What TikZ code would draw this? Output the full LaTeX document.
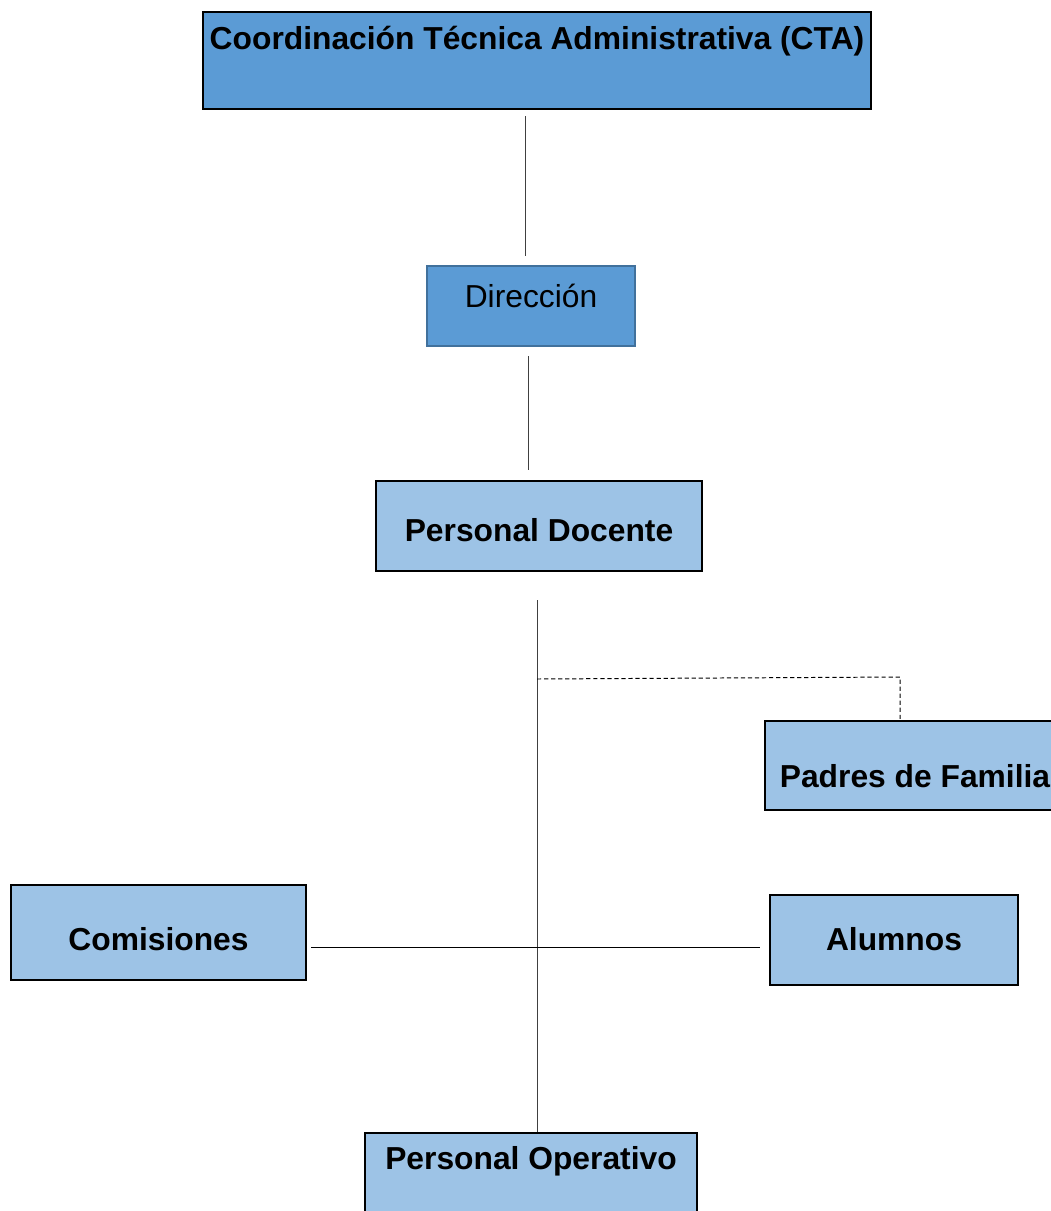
\documentclass[tikz,border=0pt]{standalone}
\usepackage{fontspec}
\setmainfont{Liberation Sans}
\usepackage{xcolor}
\usepackage{tikz}
\usetikzlibrary{positioning}

\definecolor{darkbox}{HTML}{5B9BD5}
\definecolor{lightbox}{HTML}{9DC3E6}
\definecolor{dirline}{HTML}{41719C}

\begin{document}
\begin{tikzpicture}[
                x=0.025cm, y=-0.025cm,
                every node/.style={rectangle, inner xsep=0pt, inner ysep=0pt, font=\fontsize{22.6}{27}\selectfont}, % Text size of all boxes
                unit/.style={draw=black, line width=1.4pt, fill=lightbox, font=\fontsize{22.6}{27}\selectfont\bfseries}, % Light boxes
                head/.style={unit, fill=darkbox}, % Dark box on top
                link/.style={draw=black!75, line width=0.7pt}, % Connectors
                dashlink/.style={link, draw=black, dash pattern=on 3pt off 2pt}
                ]
                \clip (0,0) rectangle (1051,1211);
                \node[head, minimum width=16.7cm, text height=0.95cm, text depth=1.475cm] (cta) at (537,60.5) {Coordinación Técnica Administrativa (CTA)};
                \node[draw=dirline, line width=1.4pt, fill=darkbox, minimum width=5.2cm, text height=1.025cm, text depth=0.975cm] (dir) at (531,306) {Dirección};
                \node[unit, minimum width=8.15cm, text height=1.5cm, text depth=0.75cm] (docente) at (539,526) {Personal Docente};
                \node[unit, minimum width=7.5cm, text height=1.65cm, text depth=0.575cm] (padres) at (915,765.5) {Padres de Familia};
                \node[unit, minimum width=7.375cm, text height=1.625cm, text depth=0.75cm] (comisiones) at (158.5,932.5) {Comisiones};
                \node[unit, minimum width=6.2cm, text height=1.375cm, text depth=0.875cm] (alumnos) at (894,940) {Alumnos};
                \node[unit, minimum width=8.3cm, text height=0.9cm, text depth=1.35cm] (operativo) at (531,1178) {Personal Operativo};

                % connector ends, kept apart from the boxes
                \coordinate (ctaOut) at (525,116);
                \coordinate (dirIn) at (525,256);
                \coordinate (dirOut) at (528,356);
                \coordinate (docIn) at (528,470);
                \coordinate (docOut) at (537,600);
                \coordinate (opIn) at (537,1132);
                \coordinate (comIn) at (311,947);
                \coordinate (aluIn) at (760,947);
                \coordinate (padSplit) at (537,679);
                \coordinate (padCorner) at (900,677);
                \coordinate (padIn) at (900,719);

                \draw[link] (ctaOut) -- (dirIn);
                \draw[link] (dirOut) -- (docIn);
                \draw[link] (docOut) -- (opIn);
                \draw[link, draw=black] (comIn) -- (aluIn);
                \draw[dashlink] (padSplit) -- (padCorner) -- (padIn);
            \end{tikzpicture}
\end{document}
